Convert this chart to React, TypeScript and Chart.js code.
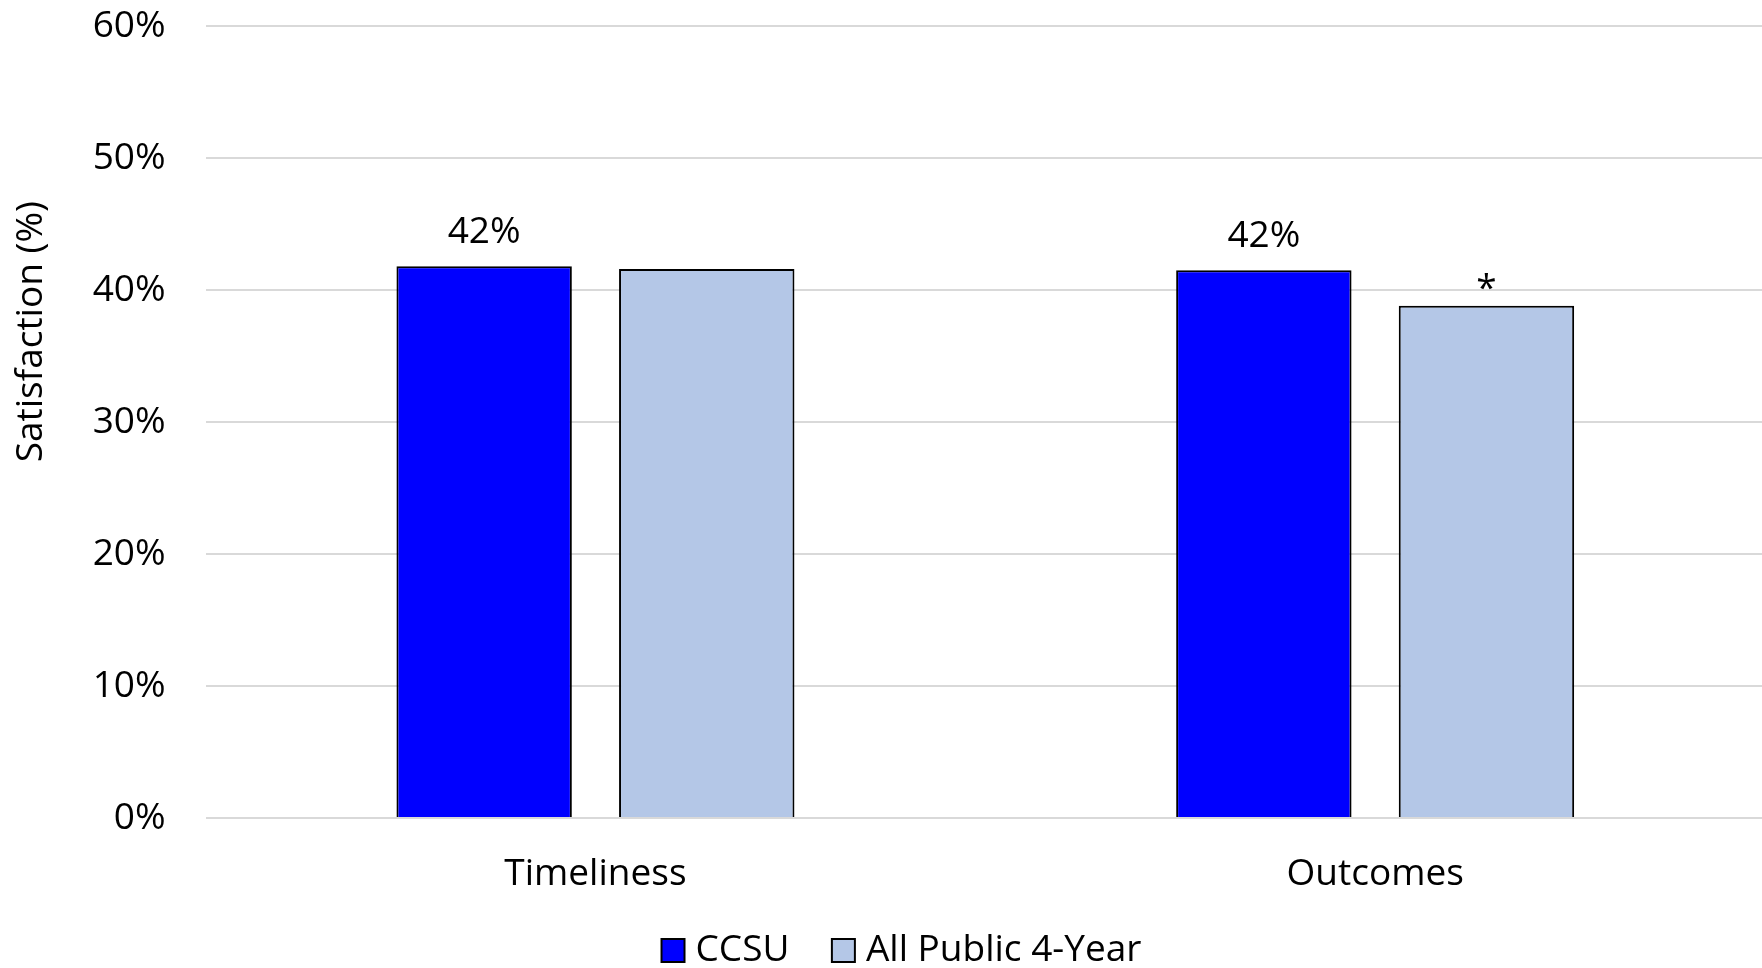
import React, { useEffect, useRef } from "react";
import { Chart, registerables } from "chart.js";

Chart.register(...registerables);

const categories = ["Timeliness", "Outcomes"];
const seriesNames = ["CCSU", "All Public 4-Year"];
const ccsuValues = [41.8, 41.5];
const allPublicValues = [41.6, 38.8];
const ccsuLabels = ["42%", "42%"];
const allPublicLabels = ["", "*"];
const yTickMin = 0;
const yTickMax = 60;
const yTickStep = 10;
const yTitle = "Satisfaction (%)";

const FONT = "'Open Sans', sans-serif";
const FONT_SIZE = 37;
const CANVAS_W = 1765;
const CANVAS_H = 968;

const barLabelPlugin = {
  id: "barLabels",
  afterDatasetsDraw(chart: any) {
    const ctx = chart.ctx;
    const sets = [ccsuLabels, allPublicLabels];
    chart.data.datasets.forEach((_ds: any, i: number) => {
      const meta = chart.getDatasetMeta(i);
      meta.data.forEach((bar: any, j: number) => {
        const txt = sets[i][j];
        if (!txt) return;
        ctx.save();
        ctx.font = `${FONT_SIZE}px ${FONT}`;
        ctx.fillStyle = "#000";
        ctx.textAlign = "center";
        ctx.textBaseline = "alphabetic";
        const off = txt === "*" ? 6 : 23;
        ctx.fillText(txt, bar.x, bar.y - off);
        ctx.restore();
      });
    });
  },
};

const yTitlePlugin = {
  id: "yTitle",
  afterDraw(chart: any) {
    const ctx = chart.ctx;
    const a = chart.chartArea;
    const cy = a.top + (a.bottom - a.top) * 0.386;
    ctx.save();
    ctx.translate(31.5, cy);
    ctx.rotate(-Math.PI / 2);
    ctx.font = `${FONT_SIZE}px ${FONT}`;
    ctx.fillStyle = "#000";
    ctx.textAlign = "center";
    ctx.textBaseline = "middle";
    ctx.fillText(yTitle, 0, 0);
    ctx.restore();
  },
};

export default function App() {
  const ref = useRef<HTMLCanvasElement | null>(null);

  useEffect(() => {
    const canvas = ref.current;
    if (!canvas) return;
    const chart = new Chart(canvas, {
      type: "bar",
      data: {
        labels: categories,
        datasets: [
          {
            label: seriesNames[0],
            data: ccsuValues,
            backgroundColor: "#0000ff",
            borderColor: "#000000",
            borderWidth: 2,
            categoryPercentage: 0.571,
            barPercentage: 0.788,
          },
          {
            label: seriesNames[1],
            data: allPublicValues,
            backgroundColor: "#b4c7e7",
            borderColor: "#000000",
            borderWidth: 2,
            categoryPercentage: 0.571,
            barPercentage: 0.788,
          },
        ],
      },
      options: {
        responsive: false,
        animation: false,
        devicePixelRatio: 1,
        layout: { padding: { left: 45.4, right: 0, top: 26, bottom: 0 } },
        plugins: {
          legend: {
            position: "bottom",
            maxHeight: 86,
            labels: {
              font: { family: FONT, size: FONT_SIZE },
              color: "#000",
              usePointStyle: true,
              pointStyle: "rect",
              boxWidth: 8,
              boxHeight: 23,
              padding: 50,
            },
          },
          tooltip: { enabled: false },
          title: { display: false },
        },
        scales: {
          x: {
            grid: { display: false, drawTicks: false },
            border: { display: false },
            ticks: {
              font: { family: FONT, size: FONT_SIZE },
              color: "#000",
              padding: 34,
            },
            afterFit: (s: any) => {
              s.height = 64;
              s._computeLabelArea = () => undefined;
            },
          },
          y: {
            min: yTickMin,
            max: yTickMax,
            grid: { color: "#d9d9d9", lineWidth: 2, drawTicks: false },
            border: { display: false },
            ticks: {
              stepSize: yTickStep,
              font: { family: FONT, size: FONT_SIZE },
              color: "#000",
              padding: 40,
              callback: (v: any) => `${v}%`,
            },
            afterFit: (s: any) => {
              s.width = 160.2;
              s.paddingTop = 0;
              s.paddingBottom = 0;
            },
          },
        },
      },
      plugins: [barLabelPlugin, yTitlePlugin],
    });
    return () => chart.destroy();
  }, []);

  return (
    <div
      style={{
        position: "fixed",
        left: 0,
        top: 0,
        width: 1762,
        height: 968,
        overflow: "hidden",
        background: "#fff",
      }}
    >
      <canvas ref={ref} width={CANVAS_W} height={CANVAS_H} style={{ display: "block" }} />
    </div>
  );
}
